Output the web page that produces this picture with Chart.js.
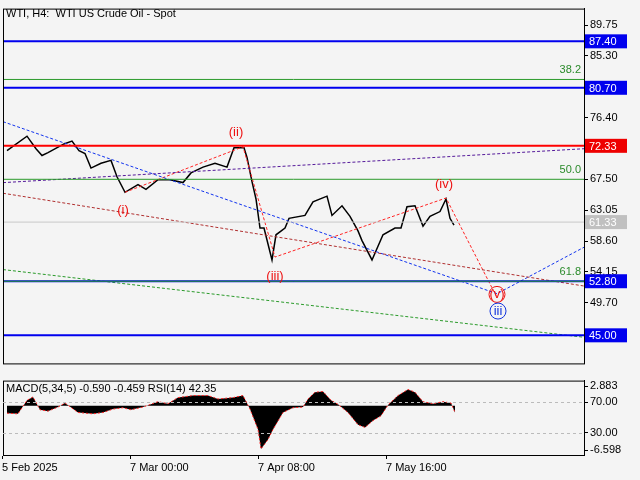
<!DOCTYPE html>
<html><head><meta charset="utf-8">
<script src="https://cdn.jsdelivr.net/npm/chart.js@4.4.0/dist/chart.umd.min.js"></script>
<style>
body{margin:0;background:#f4f4f4;}
#w{position:relative;width:640px;height:480px;}
canvas{position:absolute;left:0;}
</style></head><body>
<div id="w"><canvas id="main" style="top:0px" width="640" height="372"></canvas>
<canvas id="ind" style="top:372px" width="640" height="108"></canvas></div>
<script>
// price path (x = bar position, y = price)
const priceX = [4,24,33,39,45,61,69,76,82,88,98,108,114,122,135,143,155,167,180,188,200,212,224,231,241,244,249,253,257,261,269,273,282,286,302,310,324,329,339,347,355,359,369,380,392,398,404,412,420,427,437,443,447,451];
const priceY = [71.63,73.72,71.91,70.93,71.35,72.6,73.02,71.63,71.21,69.12,69.81,70.23,67.86,65.63,66.75,66.05,67.44,67.44,67.03,68.42,69.26,69.81,69.26,72.05,72.05,70.65,67.17,64.66,60.47,60.47,55.87,59.5,60.47,61.87,62.29,64.24,65.07,62.29,63.68,62.15,60.06,58.66,55.87,59.5,60.47,60.47,63.54,63.68,60.75,62.15,62.85,64.66,61.87,60.89];
const priceTicks = [89.75,85.30,76.40,67.50,63.05,58.60,54.15,49.70];
const blueLevels = [87.40,80.70,52.80,45.00];
const redLevels = [72.33];
const greenLevels = [81.90,67.50,52.80];
const fibLabels = ['38.2','50.0','61.8'];
const lastPrice = 61.33;
// trend lines
const waveX = [122,240,272,443,493];
const waveY = [65.63,72.19,56.29,64.80,50.72];
const blueTrendX = [0,494,581];
const blueTrendY = [75.81,51.0,57.7];
const brownTrendX = [0,581];
const brownTrendY = [65.49,52.11];
const greenTrendX = [0,581];
const greenTrendY = [54.48,44.72];
const purpleTrendX = [0,581];
const purpleTrendY = [67.02,71.91];
const waveLabels = [['(i)',120,63.0,'#ee1111'],['(ii)',233,74.2,'#ee1111'],['(iii)',272,53.5,'#ee1111'],['(iv)',441,66.8,'#ee1111'],['(v)',494,50.9,'#ee1111'],['iii',495,48.5,'#1133dd']];
// indicator
const macdX = [4,15,24,30,37,45,55,62,75,90,100,110,120,128,140,155,165,175,190,205,215,230,240,247,255,258,265,270,280,290,300,305,312,320,328,335,345,355,362,370,378,385,395,405,412,420,430,440,448,452];
const macdY = [-1.1,-1.2,0.8,1.3,-0.6,-0.8,-0.2,0.4,-1.0,-1.2,-1.0,-0.5,-0.3,-0.6,-0.2,0.6,0.3,1.2,1.5,1.5,1.0,1.2,1.5,-0.5,-3.5,-6.4,-5.0,-3.5,-1.0,-0.3,-0.2,1.0,2.0,2.1,0.8,0.2,-1.0,-2.8,-3.2,-2.2,-1.5,0.1,1.5,2.4,2.0,0.6,0.3,0.6,0.4,-1.0];
const rsiX = [4,16,24,31,37,41,53,61,69,75,82,88,98,104,116,122,131,141,155,167,178,192,204,220,229,241,247,255,261,269,278,290,304,310,322,335,347,357,363,371,384,402,412,420,433,443,449,452];
const rsiY = [37.3,43.3,65.2,55.5,28.8,45.8,43.3,63.9,43.3,27.6,45.8,28.8,51.8,57.9,31.2,55.5,34.9,55.5,59.1,61.5,40.9,67.6,71.2,55.5,63.9,49.4,31.2,19.1,31.2,16.7,49.4,53.0,51.8,67.6,61.5,51.8,39.7,22.7,39.7,31.2,61.5,76.1,65.2,40.9,53.0,63.9,37.3,43.3];
const dateTicks = [-1,127,255,383];
const dateLabels = ['5 Feb 2025','7 Mar 00:00','7 Apr 08:00','7 May 16:00'];
const indTicks = [2.883,0.547,-3.988,-6.598];
const indTickLabels = ['2.883','70.00','30.00','-6.598'];

const F = '"Liberation Sans", Arial, sans-serif';
Chart.defaults.font.family = F;
Chart.defaults.font.size = 11;
Chart.defaults.color = '#000';
Chart.defaults.animation = false;

function pts(xs, ys) { return xs.map((x, i) => ({x: x, y: ys[i]})); }
function lineDs(xs, ys, color, w, dash) {
  return {data: pts(xs, ys), borderColor: color, borderWidth: w, borderDash: dash || [], pointRadius: 0, tension: 0, fill: false};
}

const overlay = {
  id: 'overlay',
  afterDraw(c) {
    const ctx = c.ctx, a = c.chartArea, ys = c.scales.y, xs = c.scales.x;
    ctx.save();
    ctx.strokeStyle = '#000'; ctx.lineWidth = 1;
    ctx.strokeRect(a.left + 0.5, a.top + 0.5, a.right - a.left, a.bottom - a.top);
    ctx.font = '11px ' + F;
    if (c.canvas.id === 'main') {
      ctx.fillStyle = '#000'; ctx.textBaseline = 'middle'; ctx.textAlign = 'left';
      ctx.fillText('WTI, H4:  WTI US Crude Oil - Spot', 6, 14);
      ctx.fillStyle = '#2a8a2a'; ctx.textAlign = 'right';
      greenLevels.forEach((v, i) => ctx.fillText(fibLabels[i], a.right - 3, ys.getPixelForValue(v) - 9));
      ctx.font = '13px ' + F; ctx.textAlign = 'center';
      waveLabels.forEach(l => {
        const px = xs.getPixelForValue(l[1]), py = ys.getPixelForValue(l[2]);
        ctx.fillStyle = l[3];
        ctx.fillText(l[0], px, py);
        if (l[0] === 'iii' || l[0] === '(v)') {
          ctx.strokeStyle = l[3]; ctx.beginPath(); ctx.arc(px, py, 8, 0, 2 * Math.PI); ctx.stroke();
        }
      });
      ctx.font = '11px ' + F; ctx.textAlign = 'left';
      const box = (v, bg, fg) => {
        const py = ys.getPixelForValue(v);
        ctx.fillStyle = bg; ctx.fillRect(a.right + 1, py - 7, 42, 14);
        ctx.fillStyle = fg; ctx.fillText(v.toFixed(2), a.right + 5, py + 1);
      };
      blueLevels.forEach(v => box(v, '#0000ee', '#fff'));
      redLevels.forEach(v => box(v, '#ee0000', '#fff'));
      box(lastPrice, '#c0c0c0', '#fff');
    } else {
      ctx.fillStyle = '#000'; ctx.textAlign = 'left'; ctx.textBaseline = 'middle';
      ctx.fillText('MACD(5,34,5) -0.590 -0.459 RSI(14) 42.35', 6, a.top + 8);
      ctx.strokeStyle = '#bbb'; ctx.setLineDash([3, 3]);
      [indTicks[1], indTicks[2]].forEach(v => {
        const py = Math.round(ys.getPixelForValue(v)) + 0.5;
        ctx.beginPath(); ctx.moveTo(a.left, py); ctx.lineTo(a.right, py); ctx.stroke();
      });
    }
    ctx.restore();
  }
};

const yRight = (min, max, ticks, labels) => ({
  position: 'right', min: min, max: max,
  afterBuildTicks: s => { s.ticks = ticks.map(v => ({value: v})); },
  afterFit: s => { s.width = 56; },
  grid: {drawOnChartArea: false, tickLength: 4, color: '#000'},
  border: {color: '#000'},
  ticks: {padding: 2, color: '#000', callback: (v, i) => labels ? labels[i] : v.toFixed(2)}
});
const xScale = (show) => ({
  type: 'linear', min: 0, max: 581,
  display: show,
  afterBuildTicks: s => { s.ticks = dateTicks.map(v => ({value: v})); },
  afterFit: s => { if (show) s.height = 25; },
  grid: {drawOnChartArea: false, tickLength: 4, color: '#000'},
  border: {color: '#000'},
  ticks: {align: 'start', maxRotation: 0, autoSkip: false, padding: 2, callback: (v, i) => dateLabels[i]}
});

const hl = (v, color, w) => lineDs([0, 581], [v, v], color, w);
new Chart(document.getElementById('main'), {
  type: 'line',
  data: {datasets: [
    ...greenLevels.map(v => hl(v, '#2a9a2a', 1)),
    hl(lastPrice, '#c8c8c8', 1),
    ...blueLevels.map(v => hl(v, '#0000ee', 2)),
    ...redLevels.map(v => hl(v, '#ff0000', 2)),
    lineDs(purpleTrendX, purpleTrendY, '#551a9a', 1, [3, 2]),
    lineDs(brownTrendX, brownTrendY, '#b03030', 1, [3, 2]),
    lineDs(greenTrendX, greenTrendY, '#2a9a2a', 1, [3, 2]),
    lineDs(blueTrendX, blueTrendY, '#1133ee', 1, [3, 2]),
    lineDs(waveX, waveY, '#ff2222', 1, [3, 2]),
    lineDs(priceX, priceY, '#000', 1.5)
  ]},
  options: {
    responsive: false, layout: {padding: {left: 3, top: 3, bottom: 2, right: 0}},
    plugins: {legend: {display: false}, tooltip: {enabled: false}},
    scales: {x: xScale(false), y: yRight(40.95, 92.12, priceTicks)}
  },
  plugins: [overlay]
});

new Chart(document.getElementById('ind'), {
  type: 'line',
  data: {datasets: [
    {data: pts(macdX, macdY), borderColor: '#ff2222', borderWidth: 1, borderDash: [2, 2], backgroundColor: '#000', fill: 'origin', pointRadius: 0, tension: 0},
    {data: pts(rsiX, rsiY), yAxisID: 'r', borderColor: '#3399ee', borderWidth: 2, pointRadius: 0, tension: 0}
  ]},
  options: {
    responsive: false, layout: {padding: {left: 3, top: 3, bottom: 0, right: 0}},
    plugins: {legend: {display: false}, tooltip: {enabled: false}},
    scales: {
      x: xScale(true),
      y: yRight(-7.28, 3.71, indTicks, indTickLabels),
      r: {display: false, min: 0.9, max: 97.9}
    }
  },
  plugins: [overlay]
});
</script></body></html>
